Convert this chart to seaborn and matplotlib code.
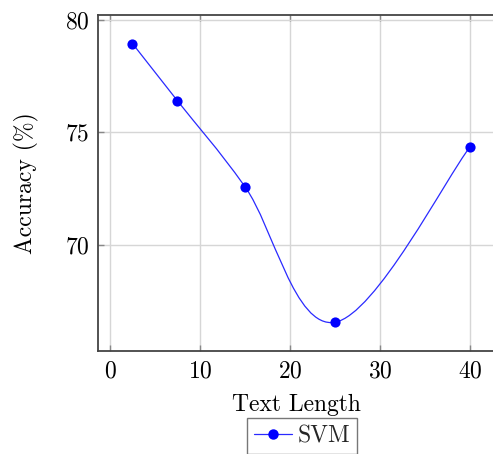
import numpy as np
import pandas as pd
import seaborn as sns
import matplotlib
matplotlib.use("Agg")
import matplotlib.pyplot as plt
from matplotlib.path import Path
from matplotlib.patches import PathPatch
from matplotlib.lines import Line2D

# Accuracy of the SVM model for different text lengths
text_length = [2.5, 7.5, 15, 25, 40]
accuracy = [78.95, 76.4, 72.58, 66.55, 74.35]
series_name = "SVM"

x_ticks = [0, 10, 20, 30, 40]
y_ticks = [70, 75, 80]

sns.set_theme(style="whitegrid")
plt.rcParams["font.family"] = ["cmr10", "DejaVu Serif"]
plt.rcParams["mathtext.fontset"] = "cm"
plt.rcParams["axes.formatter.use_mathtext"] = True
plt.rcParams["axes.unicode_minus"] = False

df = pd.DataFrame({"Text Length": text_length, "Accuracy": accuracy})

fig = plt.figure(figsize=(4.93, 4.54), dpi=100)
ax = fig.add_axes([98 / 493, (454 - 351) / 454, 397 / 493, (351 - 15) / 454])

# markers only; the smooth curve is drawn as a Bezier path below
sns.scatterplot(data=df, x="Text Length", y="Accuracy", ax=ax, color="blue",
                s=54, edgecolor="blue", linewidth=0, zorder=4, legend=False)


def smooth_path(xs, ys, tension=0.18):
    pts = np.column_stack([xs, ys]).astype(float)
    n = len(pts)
    verts = [pts[0]]
    codes = [Path.MOVETO]
    for i in range(n - 1):
        p0 = pts[i - 1] if i > 0 else pts[i]
        p1 = pts[i]
        p2 = pts[i + 1]
        p3 = pts[i + 2] if i + 2 < n else pts[i + 1]
        c1 = p1 + tension * (p2 - p0)
        c2 = p2 - tension * (p3 - p1)
        verts += [c1, c2, p2]
        codes += [Path.CURVE4] * 3
    return Path(verts, codes)


curve = PathPatch(smooth_path(text_length, accuracy), facecolor="none",
                  edgecolor="#2a2aff", lw=0.9, transform=ax.transData, zorder=3)
ax.add_patch(curve)

ax.set_xlim(-1.333, 42.78)
ax.set_ylim(65.27, 80.22)
ax.set_xticks(x_ticks)
ax.set_yticks(y_ticks)

ax.grid(True, color="#d6d6d6", lw=1.0)
for side in ["left", "bottom", "top"]:
    ax.spines[side].set_visible(True)
    ax.spines[side].set_color("#444444")
    ax.spines[side].set_linewidth(1.3)
ax.spines["right"].set_visible(False)

ax.tick_params(axis="both", which="major", direction="in", length=4,
               width=1.0, color="#888888", labelsize=17, labelcolor="black")
ax.tick_params(axis="x", top=True, bottom=True, pad=7)
ax.tick_params(axis="y", left=True, pad=6)

ax.set_xlabel("Text Length", fontsize=17, labelpad=8, color="black")
ax.set_ylabel("Accuracy (%)", fontsize=17, labelpad=19, color="black")

handle = Line2D([], [], color="#2a2aff", lw=0.9, marker="o", markersize=7.5,
                markerfacecolor="blue", markeredgewidth=0)
leg = ax.legend([handle], [series_name], loc="upper center",
                bbox_to_anchor=(0.514, -0.2), fontsize=17, frameon=True,
                fancybox=False, edgecolor="#555555", handlelength=1.6,
                handletextpad=0.25, borderpad=0.3, borderaxespad=0)
leg.get_frame().set_linewidth(1.0)

fig.savefig("out.png", dpi=100)
